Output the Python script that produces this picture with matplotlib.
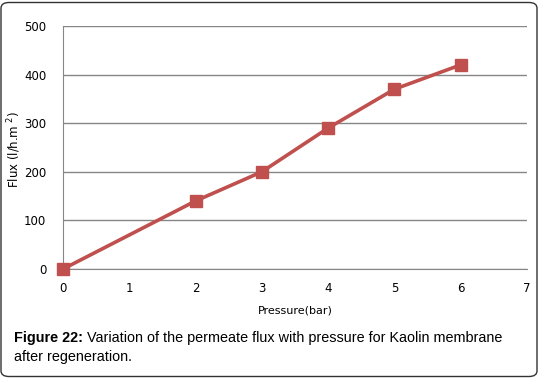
import matplotlib
matplotlib.use("Agg")
import matplotlib.pyplot as plt
from matplotlib.patches import FancyBboxPatch

pressure = [0, 2, 3, 4, 5, 6]
flux = [0, 140, 200, 290, 370, 420]
x_ticks = [0, 1, 2, 3, 4, 5, 6, 7]
y_ticks = [0, 100, 200, 300, 400, 500]

W, H = 540, 378
fig = plt.figure(figsize=(W / 100, H / 100), dpi=100)
ax = fig.add_axes([63 / W, 1 - 269 / H, (527 - 63) / W, (269 - 26) / H])

ax.plot(pressure, flux, color="#C0504D", lw=2.6, marker="s", ms=8.5,
        markerfacecolor="#C0504D", markeredgecolor="#C0504D", zorder=3, clip_on=False)
ax.set_xlim(0, 7)
ax.set_ylim(0, 500)
ax.set_xticks(x_ticks)
ax.set_yticks(y_ticks)
ax.grid(axis="y", color="#868686", lw=1)
ax.set_axisbelow(True)
for s in ["top", "right"]:
    ax.spines[s].set_visible(False)
for s in ["left", "bottom"]:
    ax.spines[s].set_color("#868686")
ax.tick_params(axis="both", length=0, labelsize=8.5, colors="black", pad=9)
ax.tick_params(axis="y", pad=12)
ax.set_xlabel("Pressure(bar)", fontsize=8, labelpad=8)

fig.text(14 / W, 1 - 150 / H, "Flux (l/h.m $^2$)", fontsize=8.5, rotation=90,
         ha="center", va="center")

cap_fs = 10.4
y1 = 1 - 338 / H
t1 = fig.text(14 / W, y1, "Figure 22:", fontsize=cap_fs, fontweight="bold",
              family="Liberation Sans", va="center")
fig.canvas.draw()
bb = t1.get_window_extent()
fig.text(bb.x1 / W + 4 / W, y1, "Variation of the permeate flux with pressure for Kaolin membrane",
         fontsize=cap_fs, family="Liberation Sans", va="center")
fig.text(14 / W, 1 - 357 / H, "after regeneration.", fontsize=cap_fs,
         family="Liberation Sans", va="center")

box = FancyBboxPatch((1 / W, 1.5 / H), (W - 4) / W, (H - 4) / H,
                     boxstyle="round,pad=0,rounding_size=0.015",
                     transform=fig.transFigure, fill=False, ec="#333333", lw=1)
fig.patches.append(box)

fig.savefig("out.png", dpi=100)
